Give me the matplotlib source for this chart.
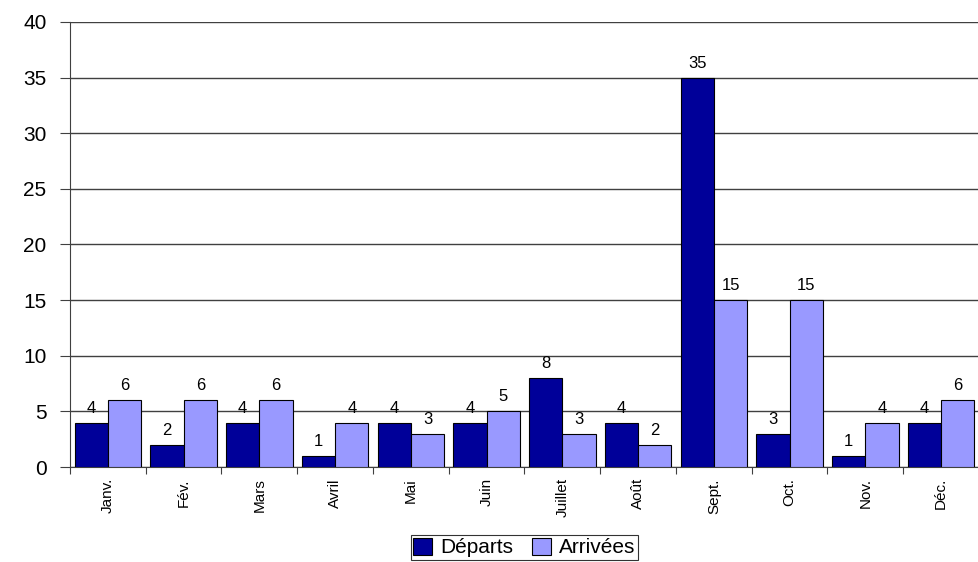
import matplotlib.pyplot as plt
import numpy as np

plt.rcParams['font.family'] = ['Liberation Sans', 'DejaVu Sans']

mois = ['Janv.', 'Fév.', 'Mars', 'Avril', 'Mai', 'Juin', 'Juillet', 'Août',
        'Sept.', 'Oct.', 'Nov.', 'Déc.']
departs = [4, 2, 4, 1, 4, 4, 8, 4, 35, 3, 1, 4]
arrivees = [6, 6, 6, 4, 3, 5, 3, 2, 15, 15, 4, 6]

fig = plt.figure(figsize=(9.79, 5.62), dpi=100)
ax = fig.add_axes([0.0715, 0.169, 0.9285, 0.792])

x = np.arange(len(mois))
w = 0.44
b1 = ax.bar(x - w / 2, departs, w, color='#000099', edgecolor='black', linewidth=0.8,
            label='Départs', zorder=3)
b2 = ax.bar(x + w / 2, arrivees, w, color='#9999FF', edgecolor='black', linewidth=0.8,
            label='Arrivées', zorder=3)

for bars in (b1, b2):
    for r in bars:
        ax.annotate(str(int(r.get_height())), (r.get_x() + r.get_width() / 2, r.get_height()),
                    xytext=(0, 5), textcoords='offset points', ha='center', va='bottom',
                    fontsize=12, zorder=4)

ax.set_xlim(-0.5, len(mois) - 0.5)
ax.set_ylim(0, 40)
ax.set_yticks(range(0, 41, 5))
ax.yaxis.grid(True, color='#404040', linewidth=1, zorder=0)
ax.tick_params(axis='y', labelsize=15, length=7, pad=10, color='#404040')

ax.set_xticks(np.arange(len(mois) + 1) - 0.5, minor=False)
ax.set_xticklabels([])
ax.set_xticks(x, minor=True)
ax.set_xticklabels(mois, minor=True, rotation=90, fontsize=11)
ax.tick_params(axis='x', which='major', length=5, color='#404040')
ax.tick_params(axis='x', which='minor', length=0, pad=8)

for s in ['top', 'right']:
    ax.spines[s].set_visible(False)
for s in ['left', 'bottom']:
    ax.spines[s].set_color('#404040')

leg = ax.legend(loc='upper center', bbox_to_anchor=(0.5, -0.153), ncol=2, fontsize=15,
                frameon=True, fancybox=False, handlelength=0.9, handleheight=0.9,
                handletextpad=0.4, columnspacing=0.9, borderpad=0.12, borderaxespad=0)
leg.get_frame().set_edgecolor('black')
leg.get_frame().set_linewidth(0.8)

fig.savefig('out.png', dpi=100)
